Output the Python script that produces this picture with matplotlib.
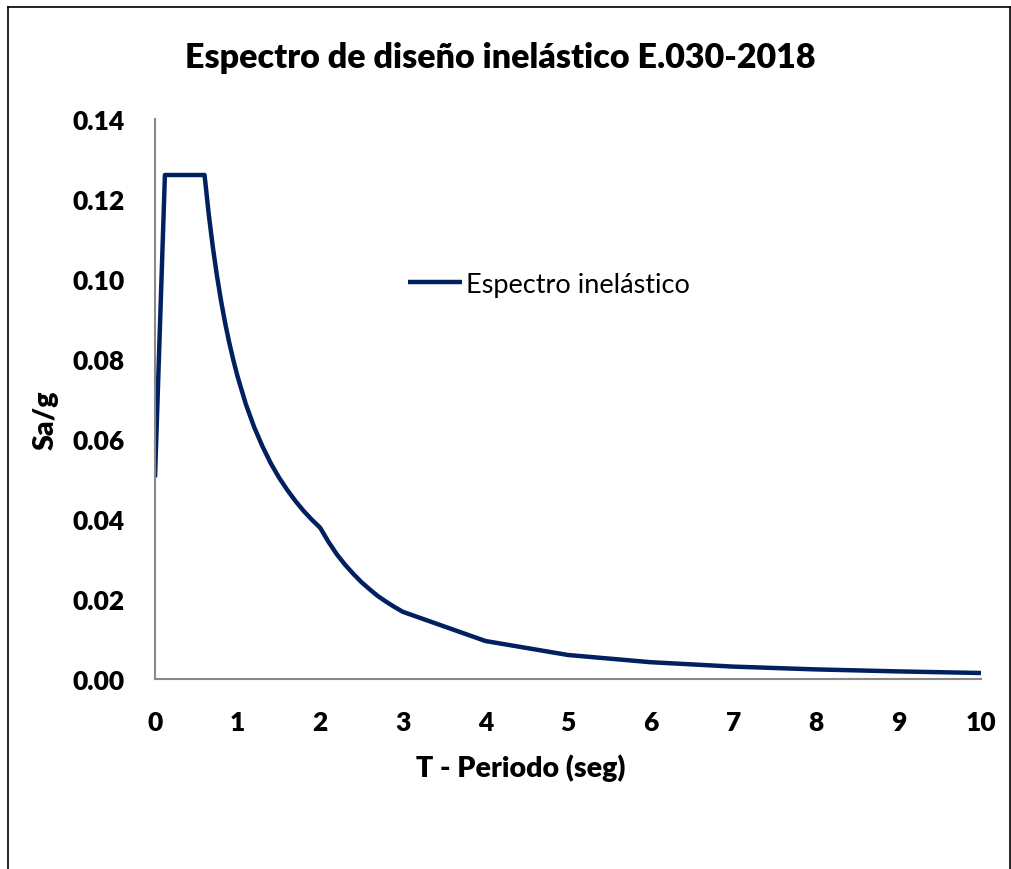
import matplotlib.pyplot as plt
from matplotlib.lines import Line2D

# Periodo T (seg) y Sa/g
periodo = [0.0, 0.12, 0.6, 0.65, 0.7, 0.75, 0.8, 0.85, 0.9, 0.95, 1.0, 1.1, 1.2, 1.3,
           1.4, 1.5, 1.6, 1.7, 1.8, 1.9, 2.0, 2.1, 2.2, 2.3, 2.4, 2.5, 2.6, 2.7, 2.8,
           2.9, 3.0, 4.0, 5.0, 6.0, 7.0, 8.0, 9.0, 10.0]
sa_g = [0.0504, 0.126, 0.126, 0.1163, 0.108, 0.1008, 0.0945, 0.0889, 0.084, 0.0796,
        0.0756, 0.0687, 0.063, 0.0582, 0.054, 0.0504, 0.0473, 0.0445, 0.042, 0.0398,
        0.0378, 0.0343, 0.0312, 0.0286, 0.0263, 0.0242, 0.0224, 0.0207, 0.0193,
        0.0180, 0.0168, 0.0095, 0.0060, 0.0042, 0.0031, 0.0024, 0.0019, 0.0015]

x_ticks = list(range(0, 11))
y_ticks = [0.00, 0.02, 0.04, 0.06, 0.08, 0.10, 0.12, 0.14]

plt.rcParams['font.family'] = ['Lato', 'DejaVu Sans']

W, H = 1012, 870
fig = plt.figure(figsize=(W / 100, H / 100), dpi=100)
ax = fig.add_axes([155 / W, 1 - 680 / H, (981 - 155) / W, (680 - 120) / H])

ax.plot(periodo, sa_g, color='#002060', lw=3.2, label='Espectro inelástico',
        solid_capstyle='butt', solid_joinstyle='round')

ax.set_xlim(0, 10)
ax.set_ylim(0, 0.14)
ax.set_xticks(x_ticks)
ax.set_xticklabels([str(t) for t in x_ticks])
ax.set_yticks(y_ticks)
ax.set_yticklabels([f'{v:.2f}' for v in y_ticks])
ax.tick_params(axis='y', length=0, labelsize=19, pad=22)
ax.tick_params(axis='x', length=0, labelsize=19, pad=22)
for lab in ax.get_xticklabels() + ax.get_yticklabels():
    lab.set_fontweight('heavy')

for s in ['top', 'right']:
    ax.spines[s].set_visible(False)
for s in ['left', 'bottom']:
    ax.spines[s].set_color('#898989')
    ax.spines[s].set_linewidth(1.5)

ax.set_xlabel('T - Periodo (seg)', fontsize=20.5, fontweight='heavy', va='center')
ax.xaxis.set_label_coords(0.443, (680 - 768) / 560)
ax.set_ylabel('Sa/g', fontsize=20.5, fontweight='heavy', va='center')
ax.yaxis.set_label_coords((46 - 155) / 826, 0.463)
fig.text(500 / W, 1 - 58 / H, 'Espectro de diseño inelástico E.030-2018',
         fontsize=24.5, fontweight='heavy', ha='center', va='center')

ax.legend(loc='center left', bbox_to_anchor=(0.306, 0.705), frameon=False,
          fontsize=19.5, handlelength=2.0, handletextpad=0.15, borderpad=0,
          borderaxespad=0)

# marco exterior del grafico
for xs, ys in [([8 / W, 8 / W], [0, 1 - 8 / H]),
               ([8 / W, 1010 / W], [1 - 8 / H, 1 - 8 / H]),
               ([1010 / W, 1010 / W], [0, 1 - 8 / H])]:
    fig.add_artist(Line2D(xs, ys, color='black', lw=1.2, transform=fig.transFigure))

fig.savefig('out.png', dpi=100)
